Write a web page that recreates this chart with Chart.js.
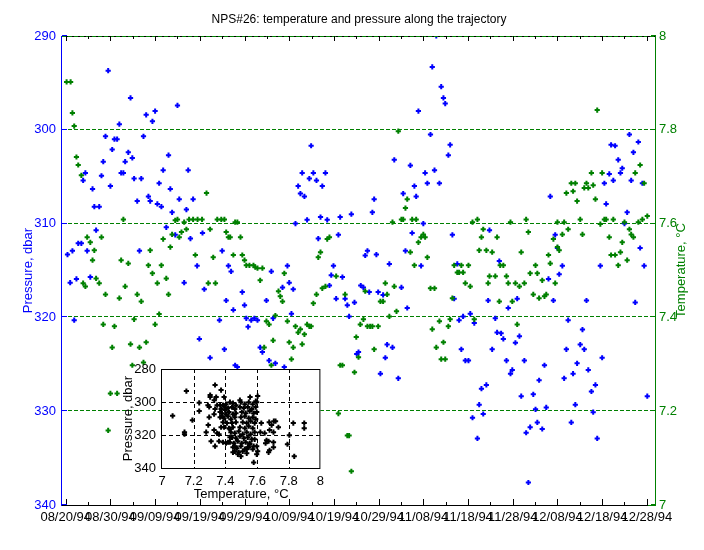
<!DOCTYPE html>
<html>
<head>
<meta charset="utf-8">
<script src="https://cdn.jsdelivr.net/npm/chart.js@4.4.1/dist/chart.umd.min.js"></script>
<style>
  body { margin: 0; background: #fff; }
  #wrap { position: relative; width: 704px; height: 550px; }
  #mainChart { position: absolute; left: 0; top: 0; }
  #insetChart { position: absolute; left: 100px; top: 355px; }
</style>
</head>
<body>
<div id="wrap">
  <canvas id="mainChart" width="704" height="550"></canvas>
  <canvas id="insetChart" width="230" height="150"></canvas>
</div>
<script>
// days since 08/20/94, pressure (dbar)
const pressureData = [
  [0.4,313.3],[1.0,316.3],[1.5,312.9],[1.9,320.3],[2.4,315.9],[2.8,312.1],[3.5,312.1],[3.9,305.4],[4.4,304.6],[4.8,312.9],
  [5.5,315.7],[6.0,306.3],[6.4,308.2],[6.8,310.7],[7.5,308.2],[8.0,304.9],[8.4,303.4],[8.9,300.7],[9.5,293.7],[10.0,306.0],
  [10.4,302.1],[10.9,301.0],[11.5,301.0],[12.0,299.4],[12.4,304.6],[12.9,304.6],[13.3,303.4],[14.0,302.4],[14.5,296.6],[14.9,303.0],
  [15.3,305.2],[16.0,307.6],[16.5,312.9],[16.9,305.2],[17.4,300.7],[18.0,298.4],[18.5,307.1],[18.9,307.6],[19.4,299.1],[20.0,298.0],
  [20.5,307.9],[20.9,305.7],[21.4,308.2],[21.8,304.3],[22.5,310.4],[23.0,302.7],[23.4,306.3],[23.8,308.8],[24.5,311.2],[25.0,297.4],
  [25.4,307.4],[26.5,316.3],[27.0,308.5],[27.4,304.3],[27.9,311.6],[28.5,307.4],[29.4,314.5],[29.9,322.3],[30.6,311.0],[31.0,317.0],
  [32.3,324.3],[34.4,320.3],[35.0,312.9],[35.5,323.4],[35.9,318.2],[36.4,314.5],[37.0,315.1],[37.5,319.2],[37.9,325.1],[38.4,325.3],
  [39.5,317.3],[40.0,318.7],[40.4,320.1],[40.8,321.0],[41.5,320.3],[42.2,320.1],[42.9,320.3],[43.5,323.2],[44.0,323.7],[44.9,318.2],
  [45.5,324.6],[46.0,315.1],[46.4,320.1],[46.9,324.9],[48.5,316.8],[48.9,325.3],[49.6,314.5],[50.0,316.3],[50.5,319.6],[50.9,317.0],
  [51.4,310.0],[52.0,306.0],[52.5,306.8],[52.9,304.6],[53.4,307.1],[54.0,309.6],[54.5,305.2],[54.9,301.7],[55.4,304.6],[56.1,305.4],
  [56.5,311.6],[57.0,309.3],[57.4,306.0],[58.1,304.6],[58.5,309.6],[59.0,316.6],[59.4,315.5],[59.9,314.5],[60.5,318.0],[61.0,311.2],
  [61.4,309.3],[61.9,315.7],[62.5,318.0],[63.0,318.7],[63.4,319.9],[63.9,309.0],[64.6,318.4],[65.1,323.9],[65.5,323.7],[66.0,316.6],
  [66.6,316.8],[67.0,313.4],[67.5,312.9],[67.9,317.3],[68.6,308.8],[69.0,307.4],[69.5,313.3],[69.9,317.3],[70.4,326.0],[71.0,317.6],
  [71.5,324.3],[71.9,322.9],[72.4,314.3],[73.1,323.2],[73.5,303.2],[74.4,326.5],[75.1,316.8],[75.5,306.8],[76.0,312.9],[76.4,319.0],
  [77.1,303.8],[77.5,311.0],[78.0,306.0],[78.4,307.1],[78.9,298.0],[79.5,314.5],[80.0,310.0],[80.4,304.6],[80.9,305.7],[81.6,300.5],
  [82.0,293.3],[82.5,304.3],[82.9,290.0],[83.6,305.7],[84.0,295.4],[84.5,296.6],[84.9,297.2],[85.6,302.7],[86.0,301.6],[86.5,311.2],
  [86.9,318.0],[87.6,314.3],[88.0,320.3],[88.5,323.4],[88.9,319.9],[89.4,324.6],[90.1,324.6],[90.5,319.6],[91.0,330.7],[91.4,320.6],
  [92.1,332.9],[92.5,329.3],[93.0,327.6],[93.4,330.3],[94.1,327.2],[94.5,318.2],[94.8,310.7],[95.4,323.4],[96.1,320.1],[96.5,321.6],
  [97.0,314.0],[97.4,321.7],[97.9,322.3],[98.6,324.6],[99.0,319.0],[99.5,326.0],[99.9,325.6],[100.6,322.7],[101.0,318.0],[101.5,322.0],
  [101.9,328.4],[102.6,324.6],[103.0,332.3],[103.5,337.6],[103.9,331.7],[104.6,328.2],[105.1,329.8],[105.5,331.2],[105.9,326.7],[106.6,331.9],
  [107.1,325.1],[107.5,329.6],[108.0,315.9],[108.4,307.1],[109.1,318.2],[109.5,311.2],[110.0,312.6],[110.4,315.4],[111.1,314.5],[111.5,326.5],
  [112.0,323.4],[112.4,320.3],[113.1,331.2],[113.5,326.0],[114.0,329.3],[114.4,324.9],[115.1,322.9],[115.6,321.3],[116.0,323.4],[116.5,318.2],
  [116.9,325.6],[117.6,327.9],[118.0,330.1],[118.5,327.2],[118.9,332.9],[119.6,314.5],[120.0,324.3],[120.5,305.7],[120.9,307.9],[121.6,304.7],
  [122.0,301.6],[122.5,305.4],[122.9,301.7],[123.6,303.2],[124.1,304.6],[124.5,304.1],[125.0,310.0],[125.6,308.8],[126.1,300.5],[126.5,305.4],
  [127.0,302.4],[127.4,318.4],[128.1,301.3],[128.5,312.6],[129.0,305.7],[129.4,314.5],[130.1,328.4]
];

// days since 08/20/94, temperature (°C)
const tempData = [
  [0.2,7.902],[1.1,7.902],[1.5,7.836],[1.9,7.808],[2.4,7.742],[2.8,7.725],[3.5,7.703],[3.9,7.473],[4.4,7.466],[4.8,7.571],
  [5.5,7.560],[6.0,7.522],[6.4,7.543],[6.8,7.483],[7.5,7.473],[8.0,7.571],[8.4,7.385],[8.9,7.449],[9.5,7.159],[10.0,7.238],
  [10.4,7.336],[10.9,7.381],[11.5,7.238],[12.0,7.441],[12.4,7.522],[12.9,7.609],[13.3,7.466],[14.0,7.515],[14.5,7.343],[14.9,7.298],
  [15.3,7.396],[16.0,7.449],[16.5,7.336],[16.9,7.434],[17.4,7.304],[18.0,7.347],[18.5,7.511],[18.9,7.543],[19.4,7.494],[20.0,7.385],
  [20.5,7.473],[20.9,7.407],[21.4,7.511],[21.8,7.567],[22.5,7.483],[23.0,7.449],[23.4,7.550],[23.8,7.577],[24.5,7.607],[25.0,7.609],
  [25.4,7.571],[25.9,7.582],[26.5,7.603],[27.0,7.588],[27.6,7.609],[28.5,7.609],[29.0,7.533],[29.5,7.609],[30.5,7.609],[31.5,7.665],
  [31.9,7.473],[32.3,7.588],[33.0,7.528],[33.5,7.473],[33.9,7.609],[34.8,7.609],[35.5,7.609],[35.9,7.582],[36.4,7.571],[36.8,7.571],
  [37.5,7.533],[37.9,7.603],[38.4,7.603],[39.1,7.571],[39.5,7.533],[40.0,7.522],[40.4,7.511],[41.1,7.511],[42.0,7.511],[42.4,7.507],
  [42.9,7.505],[43.5,7.479],[44.0,7.505],[44.4,7.336],[44.9,7.392],[45.5,7.385],[46.0,7.298],[46.4,7.351],[46.9,7.404],[47.6,7.456],
  [48.0,7.445],[48.5,7.434],[48.9,7.494],[49.6,7.392],[50.0,7.347],[50.5,7.311],[50.9,7.336],[51.4,7.381],[52.0,7.368],[52.5,7.375],
  [52.9,7.343],[53.4,7.364],[54.0,7.385],[54.5,7.381],[54.9,7.381],[55.4,7.430],[56.1,7.449],[56.5,7.528],[57.0,7.539],[57.4,7.462],
  [58.1,7.466],[58.5,7.567],[59.0,7.571],[60.5,7.488],[61.0,7.195],[61.4,7.298],[61.9,7.298],[62.5,7.449],[63.0,7.148],[63.4,7.148],
  [63.9,7.072],[64.6,7.283],[65.0,7.358],[65.5,7.315],[65.9,7.385],[66.6,7.396],[67.0,7.456],[67.5,7.381],[68.1,7.381],[68.6,7.381],
  [69.0,7.332],[69.9,7.381],[70.4,7.434],[71.0,7.434],[71.5,7.473],[71.9,7.449],[72.4,7.402],[73.1,7.603],[73.5,7.466],[74.0,7.413],
  [74.4,7.797],[75.1,7.609],[75.5,7.609],[76.0,7.633],[76.4,7.652],[77.1,7.539],[77.5,7.609],[78.0,7.511],[78.4,7.609],[78.9,7.560],
  [79.5,7.571],[80.0,7.577],[80.4,7.571],[80.9,7.528],[81.6,7.462],[82.0,7.375],[82.5,7.462],[82.9,7.336],[83.6,7.392],[84.0,7.311],
  [84.5,7.347],[84.9,7.311],[85.6,7.381],[86.0,7.396],[86.5,7.441],[86.9,7.511],[87.6,7.496],[88.0,7.496],[88.5,7.511],[88.9,7.496],
  [89.4,7.473],[90.1,7.511],[90.5,7.466],[91.0,7.603],[91.4,7.396],[92.1,7.609],[92.5,7.543],[93.0,7.571],[93.4,7.588],[94.1,7.543],
  [94.5,7.473],[94.8,7.488],[95.4,7.539],[96.1,7.488],[96.5,7.571],[97.0,7.434],[97.2,7.511],[97.9,7.511],[98.6,7.488],[99.0,7.473],
  [99.5,7.603],[99.9,7.434],[100.6,7.473],[101.0,7.385],[101.5,7.466],[101.9,7.539],[102.6,7.473],[103.0,7.609],[103.5,7.582],[103.9,7.494],
  [104.6,7.449],[105.1,7.511],[105.5,7.494],[105.9,7.441],[106.6,7.479],[107.1,7.445],[107.5,7.449],[108.0,7.533],[108.4,7.515],[109.1,7.567],
  [109.5,7.473],[110.0,7.603],[110.0,7.550],[110.4,7.543],[111.1,7.577],[111.5,7.603],[112.0,7.665],[112.4,7.588],[113.1,7.686],[113.5,7.669],
  [114.0,7.686],[114.4,7.648],[115.1,7.609],[115.6,7.577],[116.0,7.676],[116.5,7.686],[116.9,7.676],[117.6,7.708],[118.0,7.682],[118.5,7.652],
  [118.9,7.842],[119.6,7.599],[120.0,7.708],[120.5,7.609],[120.9,7.609],[121.6,7.571],[122.0,7.533],[122.5,7.609],[122.9,7.533],[123.6,7.511],
  [124.1,7.539],[124.5,7.560],[125.0,7.603],[125.6,7.522],[126.1,7.588],[126.5,7.577],[127.0,7.571],[127.4,7.708],[128.1,7.603],[128.5,7.725],
  [129.0,7.609],[129.4,7.686],[130.1,7.616]
];

// inset: temperature (°C) vs pressure (dbar)
const insetData = [
  [7.067,308.4],[7.154,293.4],[7.142,318.3],[7.142,319.5],[7.192,311.0],[7.235,300.5],[7.235,305.5],[7.335,289.7],[7.373,292.8],[7.304,295.8],
  [7.304,297.0],[7.290,301.9],[7.298,303.0],[7.330,298.9],[7.342,297.0],[7.279,318.3],[7.292,314.0],[7.310,323.8],[7.335,326.8],[7.298,309.2],
  [7.329,307.4],[7.329,317.0],[7.348,319.0],[7.360,323.8],[7.385,324.4],[7.373,315.3],[7.379,308.6],[7.348,301.9],[7.335,304.3],[7.367,306.1],
  [7.392,297.0],[7.392,302.5],[7.492,298.9],[7.556,297.0],[7.604,296.4],[7.598,300.1],[7.627,312.8],[7.621,318.3],[7.585,322.6],[7.598,326.8],
  [7.604,329.9],[7.598,331.7],[7.579,336.6],[7.648,318.9],[7.677,312.2],[7.692,314.0],[7.706,311.6],[7.717,311.6],[7.704,318.3],[7.735,315.3],
  [7.679,317.0],[7.660,323.2],[7.673,323.8],[7.654,325.0],[7.679,329.3],[7.673,330.5],[7.704,324.4],[7.704,327.4],[7.804,320.1],[7.792,325.6],
  [7.829,312.8],[7.898,312.8],[7.898,315.9],[7.835,332.9],[7.448,330.5],[7.460,326.8],[7.479,331.7],[7.498,332.9],[7.542,327.4],[7.535,328.7],
  [7.554,325.6],[7.579,326.8],[7.429,321.4],[7.429,316.5],[7.417,324.4],[7.404,325.0],[7.360,319.5],
  [7.367,301.9],[7.385,301.9],[7.404,301.3],[7.429,300.1],[7.448,300.7],[7.467,301.9],[7.373,304.3],[7.398,304.9],[7.417,303.7],[7.442,303.1],
  [7.460,304.3],[7.379,306.8],[7.404,307.4],[7.423,306.1],[7.448,307.4],[7.467,306.8],[7.367,309.2],[7.392,309.8],[7.417,308.6],[7.435,310.4],
  [7.460,309.2],[7.385,312.2],[7.410,312.8],[7.442,312.8],[7.467,312.2],[7.392,315.3],[7.423,315.9],[7.448,315.3],
  [7.498,300.1],[7.523,301.3],[7.548,300.1],[7.573,301.3],[7.592,299.5],[7.492,303.1],[7.517,303.7],[7.542,303.1],[7.567,304.3],[7.592,303.1],
  [7.504,306.1],[7.529,306.8],[7.554,305.5],[7.579,306.8],[7.598,306.1],[7.498,309.2],[7.523,308.6],[7.548,309.8],[7.573,309.2],[7.592,310.4],
  [7.510,312.2],[7.535,312.8],[7.560,311.6],[7.585,312.8],[7.492,315.3],[7.523,315.9],[7.548,314.7],[7.573,315.9],
  [7.435,318.3],[7.460,318.9],[7.485,317.7],[7.510,319.5],[7.535,318.3],[7.560,319.5],[7.585,318.3],[7.442,321.4],[7.467,322.0],[7.492,320.7],
  [7.517,322.0],[7.542,321.4],[7.567,322.6],[7.429,324.4],[7.454,325.0],[7.479,323.8],[7.504,325.0],[7.529,324.4],[7.554,325.0],[7.448,327.4],
  [7.473,328.0],[7.498,326.8],[7.523,328.6],[7.548,327.4],[7.573,328.6],[7.460,329.9],[7.485,330.5],[7.510,329.9],[7.535,331.1]
];

const dateTickDays = [0, 10, 20, 30, 40, 50, 60, 70, 80, 90, 100, 110, 120, 130];
const dateTickLabels = ['08/20/94', '08/30/94', '09/09/94', '09/19/94', '09/29/94', '10/09/94', '10/19/94',
                        '10/29/94', '11/08/94', '11/18/94', '11/28/94', '12/08/94', '12/18/94', '12/28/94'];
const minorTickDays = [5, 15, 25, 35, 45, 55, 65, 75, 85, 95, 105, 115, 125];
const pressureTicks = [290, 300, 310, 320, 330, 340];
const tempTicks = [7, 7.2, 7.4, 7.6, 7.8, 8];
const insetTempTicks = [7, 7.2, 7.4, 7.6, 7.8, 8];
const insetPresTicks = [280, 300, 320, 340];

const BLUE = '#0000ff';
const GREEN = '#008000';
const FONT = "'Liberation Sans', Arial, Helvetica, sans-serif";

Chart.defaults.font.family = FONT;
Chart.defaults.font.size = 13;
Chart.defaults.color = '#000';

function hline(ctx, x1, x2, y) { ctx.beginPath(); ctx.moveTo(x1, y); ctx.lineTo(x2, y); ctx.stroke(); }
function vline(ctx, x, y1, y2) { ctx.beginPath(); ctx.moveTo(x, y1); ctx.lineTo(x, y2); ctx.stroke(); }

// grid, frame, inward ticks and titles for the main plot
const mainFrame = {
  id: 'mainFrame',
  beforeDatasetsDraw(chart) {
    const { ctx, chartArea: a, scales } = chart;
    ctx.save();
    ctx.strokeStyle = GREEN;
    ctx.lineWidth = 1;
    ctx.setLineDash([4, 2]);
    pressureTicks.slice(1, -1).forEach(v => {
      const y = Math.round(scales.p.getPixelForValue(v)) - 0.5;
      hline(ctx, a.left, a.right, y);
    });
    ctx.restore();
  },
  afterDatasetsDraw(chart) {
    const { ctx, chartArea: a, scales } = chart;
    ctx.save();
    ctx.lineWidth = 1;
    // top & bottom
    ctx.strokeStyle = '#000';
    hline(ctx, a.left, a.right, a.top + 0.5);
    hline(ctx, a.left, a.right, a.bottom + 0.5);
    ctx.setLineDash([4, 2]);
    ctx.strokeStyle = GREEN;
    hline(ctx, a.left, a.right, a.top + 0.5);
    ctx.setLineDash([]);
    // inward x ticks
    ctx.strokeStyle = '#000';
    dateTickDays.forEach(d => {
      const x = Math.round(scales.x.getPixelForValue(d)) + 0.5;
      vline(ctx, x, a.bottom, a.bottom - 6);
      vline(ctx, x, a.top, a.top + 5);
    });
    minorTickDays.forEach(d => {
      const x = Math.round(scales.x.getPixelForValue(d)) + 0.5;
      vline(ctx, x, a.bottom, a.bottom - 3);
      vline(ctx, x, a.top, a.top + 3);
    });
    // y ticks
    tempTicks.forEach(v => {
      const y = Math.round(scales.t.getPixelForValue(v)) - 0.5;
      ctx.strokeStyle = GREEN;
      hline(ctx, a.right - 5, a.right, y);
    });
    pressureTicks.forEach(v => {
      const y = Math.round(scales.p.getPixelForValue(v)) - 0.5;
      ctx.strokeStyle = BLUE;
      hline(ctx, a.left, a.left + 5, y);
    });
    // left / right axis lines
    ctx.strokeStyle = BLUE;
    vline(ctx, a.left - 0.5, a.top, a.bottom + 1);
    ctx.strokeStyle = GREEN;
    vline(ctx, a.right - 0.5, a.top, a.bottom + 1);
    hline(ctx, a.right - 8, a.right, a.bottom + 0.5);

    // titles
    ctx.textAlign = 'center';
    ctx.textBaseline = 'middle';
    ctx.fillStyle = '#000';
    ctx.font = '12px ' + FONT;
    ctx.fillText('NPS#26: temperature and pressure along the trajectory', (a.left + a.right) / 2, 20);
    ctx.font = '13px ' + FONT;
    const midY = (a.top + a.bottom) / 2;
    ctx.fillStyle = BLUE;
    ctx.save();
    ctx.translate(28, midY);
    ctx.rotate(-Math.PI / 2);
    ctx.fillText('Pressure, dbar', 0, 0);
    ctx.restore();
    ctx.fillStyle = GREEN;
    ctx.save();
    ctx.translate(681, midY);
    ctx.rotate(-Math.PI / 2);
    ctx.fillText('Temperature, °C', 0, 0);
    ctx.restore();
    ctx.restore();
  }
};

const pointStyle = { pointStyle: 'cross', pointRadius: 2.6, pointHoverRadius: 2.6, borderWidth: 2, showLine: false };

new Chart(document.getElementById('mainChart'), {
  type: 'scatter',
  data: {
    datasets: [
      Object.assign({ label: 'Temperature', data: tempData.map(r => ({ x: r[0], y: r[1] })), yAxisID: 't',
        borderColor: GREEN, backgroundColor: GREEN }, pointStyle),
      Object.assign({ label: 'Pressure', data: pressureData.map(r => ({ x: r[0], y: r[1] })), yAxisID: 'p',
        borderColor: BLUE, backgroundColor: BLUE }, pointStyle)
    ]
  },
  options: {
    responsive: false,
    animation: false,
    devicePixelRatio: 1,
    layout: { padding: { top: 36, left: 0, right: 0, bottom: 0 } },
    plugins: { legend: { display: false }, tooltip: { enabled: false } },
    scales: {
      x: {
        type: 'linear', position: 'bottom', min: -0.83, max: 132.05,
        afterBuildTicks: s => { s.ticks = dateTickDays.map(v => ({ value: v })); },
        afterFit: s => { s.height = 45; },
        grid: { display: false, drawTicks: false },
        border: { display: false },
        ticks: {
          autoSkip: false, maxRotation: 0, minRotation: 0, padding: 5, color: '#000',
          callback: v => { const i = dateTickDays.indexOf(v); return i >= 0 ? dateTickLabels[i] : ''; }
        }
      },
      p: {
        type: 'linear', position: 'left', min: 290, max: 340, reverse: true,
        afterBuildTicks: s => { s.ticks = pressureTicks.map(v => ({ value: v })); },
        afterFit: s => { s.width = 62; },
        grid: { display: false, drawTicks: false },
        border: { display: false },
        ticks: { color: BLUE, padding: 6 }
      },
      t: {
        type: 'linear', position: 'right', min: 7, max: 8,
        afterBuildTicks: s => { s.ticks = tempTicks.map(v => ({ value: v })); },
        afterFit: s => { s.width = 48; },
        grid: { display: false, drawTicks: false },
        border: { display: false },
        ticks: { color: GREEN, padding: 3, callback: v => String(v) }
      }
    }
  },
  plugins: [mainFrame]
});

// inset box: white fill, dashed grid, frame, labels
const insetFrame = {
  id: 'insetFrame',
  beforeDatasetsDraw(chart) {
    const { ctx, chartArea: a, scales } = chart;
    ctx.save();
    ctx.fillStyle = '#fff';
    ctx.fillRect(a.left, a.top, a.right - a.left, a.bottom - a.top);
    ctx.strokeStyle = '#000';
    ctx.lineWidth = 1;
    ctx.setLineDash([4, 3]);
    insetTempTicks.slice(1, -1).forEach(v => {
      const x = Math.round(scales.x.getPixelForValue(v)) + 0.5;
      vline(ctx, x, a.top, a.bottom);
    });
    insetPresTicks.slice(1, -1).forEach(v => {
      const y = Math.round(scales.y.getPixelForValue(v)) + 0.5;
      hline(ctx, a.left, a.right, y);
    });
    ctx.restore();
  },
  afterDatasetsDraw(chart) {
    const { ctx, chartArea: a } = chart;
    ctx.save();
    ctx.strokeStyle = '#000';
    ctx.lineWidth = 1;
    ctx.strokeRect(a.left - 0.5, a.top + 0.5, a.right - a.left, a.bottom - a.top);
    ctx.fillStyle = '#000';
    ctx.font = '13px ' + FONT;
    ctx.textAlign = 'center';
    ctx.textBaseline = 'middle';
    ctx.fillText('Temperature, °C', (a.left + a.right) / 2, 139);
    ctx.save();
    ctx.translate(28, (a.top + a.bottom) / 2);
    ctx.rotate(-Math.PI / 2);
    ctx.fillText('Pressure, dbar', 0, 0);
    ctx.restore();
    ctx.restore();
  }
};

new Chart(document.getElementById('insetChart'), {
  type: 'scatter',
  data: {
    datasets: [
      Object.assign({ label: 'T-P', data: insetData.map(r => ({ x: r[0], y: r[1] })),
        borderColor: '#000', backgroundColor: '#000' }, pointStyle)
    ]
  },
  options: {
    responsive: false,
    animation: false,
    devicePixelRatio: 1,
    layout: { padding: { top: 14, right: 8, left: 0, bottom: 0 } },
    plugins: { legend: { display: false }, tooltip: { enabled: false } },
    scales: {
      x: {
        type: 'linear', min: 7, max: 8,
        afterBuildTicks: s => { s.ticks = insetTempTicks.map(v => ({ value: v })); },
        afterFit: s => { s.height = 37; },
        grid: { display: false, drawTicks: false },
        border: { display: false },
        ticks: { color: '#000', padding: 6, maxRotation: 0, autoSkip: false, callback: v => String(v) }
      },
      y: {
        type: 'linear', min: 280, max: 340, reverse: true,
        afterBuildTicks: s => { s.ticks = insetPresTicks.map(v => ({ value: v })); },
        afterFit: s => { s.width = 62; },
        grid: { display: false, drawTicks: false },
        border: { display: false },
        ticks: { color: '#000', padding: 6 }
      }
    }
  },
  plugins: [insetFrame]
});
</script>
</body>
</html>
